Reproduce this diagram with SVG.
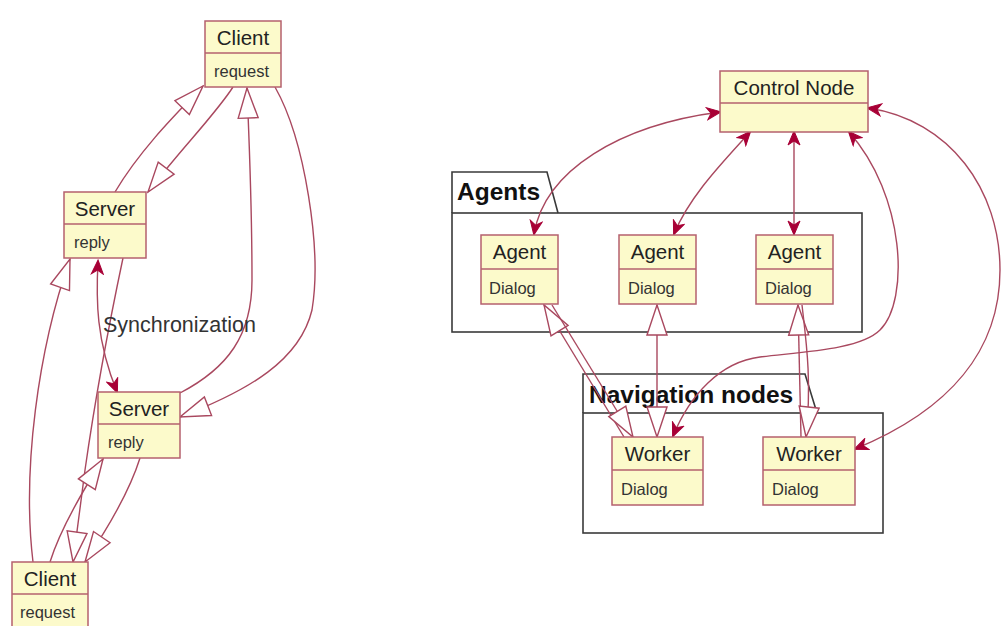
<svg xmlns="http://www.w3.org/2000/svg" width="1002" height="626" viewBox="0 0 1002 626">
<style>
  .node rect { fill: #FCFACB; stroke: #B5606E; stroke-width: 1.5; }
  .node line { stroke: #B5606E; stroke-width: 1.5; }
  .name { font-family: "Liberation Sans", Arial, sans-serif; font-size: 20.5px; fill: #222; text-anchor: middle; }
  .member { font-family: "Liberation Sans", Arial, sans-serif; font-size: 16.5px; fill: #333; }
  .pkg { fill: none; stroke: #3a3a3a; stroke-width: 1.6; }
  .pkgname { font-family: "Liberation Sans", Arial, sans-serif; font-size: 24.5px; font-weight: bold; fill: #111; }
  .label { font-family: "Liberation Sans", Arial, sans-serif; font-size: 21.5px; fill: #333; }
  .inh { fill: none; stroke: #A9485F; stroke-width: 1.4; marker-end: url(#tri); }
  .inh2 { fill: none; stroke: #A9485F; stroke-width: 1.4; marker-end: url(#tri); marker-start: url(#tri); }
  .dep { fill: none; stroke: #A9485F; stroke-width: 1.4; marker-end: url(#arr); marker-start: url(#arr); }
</style>
<defs>
  <marker id="tri" markerUnits="userSpaceOnUse" markerWidth="34" markerHeight="24" viewBox="0 0 34 24" refX="32" refY="12" orient="auto-start-reverse">
    <path d="M2,2 L32,12 L2,22 Z" fill="#ffffff" stroke="#A9485F" stroke-width="1.4"/>
  </marker>
  <marker id="arr" markerUnits="userSpaceOnUse" markerWidth="16" markerHeight="14" viewBox="0 0 16 14" refX="14" refY="7" orient="auto-start-reverse">
    <path d="M1,1 L15,7 L1,13 L5,7 Z" fill="#A80036" stroke="#A80036" stroke-width="1"/>
  </marker>
</defs>
<rect width="1002" height="626" fill="#ffffff"/>

<g id="pkg-agents">
  <path class="pkg" d="M452,213 L452,172 L547,172 L558,213"/>
  <rect class="pkg" x="452" y="213" width="410" height="119"/>
  <text class="pkgname" x="457" y="200">Agents</text>
</g>
<g id="pkg-navigation">
  <path class="pkg" d="M583,413 L583,374 L805,374 L817,413"/>
  <rect class="pkg" x="583" y="413" width="300" height="120"/>
  <text class="pkgname" x="589" y="403">Navigation nodes</text>
</g>

<g id="connectors">
  <!-- left diagram -->
  <path class="inh" d="M115,192 C 140,150 175,115 203,86"/>
  <path class="inh" d="M233,87 C 215,115 180,150 148,192"/>
  <path class="inh" d="M180,393 C 228,368 252,335 252,280 C 252,200 249,140 247,88"/>
  <path class="inh" d="M275,87 C 305,140 322,250 312,310 C 300,360 250,390 180,417"/>
  <path class="dep" d="M98,261 C 96,300 96,340 117,392"/>
  <path class="inh" d="M123,258 C 112,310 95,400 85,470 C 80,510 76,540 73,562"/>
  <path class="inh" d="M33,562 C 22,470 38,350 70,259"/>
  <path class="inh" d="M50,562 C 60,530 80,495 103,459"/>
  <path class="inh" d="M140,458 C 130,490 110,525 85,562"/>
  <!-- right diagram -->
  <path class="dep" d="M534,234 C 545,170 620,125 720,112"/>
  <path class="dep" d="M674,234 C 690,195 725,160 750,132"/>
  <path class="dep" d="M794,132 L794,234"/>
  <path class="dep" d="M849,132 C 905,195 910,300 880,330 C 860,350 800,352 760,357 C 720,362 690,395 673,436"/>
  <path class="dep" d="M868,108 C 950,120 1000,190 1000,270 C 1000,350 950,410 855,449"/>
  <path class="inh" d="M624,437 L544,305"/>
  <path class="inh" d="M552,305 L633,437"/>
  <path class="inh2" d="M657,437 L657,305"/>
  <path class="inh" d="M801,437 L798,305"/>
  <path class="inh" d="M802,305 C 806,340 812,380 806,437"/>
</g>

<g id="client-top" class="node">
  <rect x="205" y="21" width="76" height="66"/>
  <line x1="205" y1="53" x2="281" y2="53"/>
  <text class="name" x="243" y="45">Client</text>
  <text class="member" x="214" y="77">request</text>
</g>
<g id="server-top" class="node">
  <rect x="64" y="192" width="82" height="66"/>
  <line x1="64" y1="224" x2="146" y2="224"/>
  <text class="name" x="105" y="216">Server</text>
  <text class="member" x="74" y="248">reply</text>
</g>
<g id="sync-label">
  <text class="label" x="103" y="332">Synchronization</text>
</g>
<g id="server-bottom" class="node">
  <rect x="98" y="392" width="82" height="66"/>
  <line x1="98" y1="424" x2="180" y2="424"/>
  <text class="name" x="139" y="416">Server</text>
  <text class="member" x="108" y="448">reply</text>
</g>
<g id="client-bottom" class="node">
  <rect x="12" y="562" width="76" height="70"/>
  <line x1="12" y1="594" x2="88" y2="594"/>
  <text class="name" x="50" y="586">Client</text>
  <text class="member" x="20" y="618">request</text>
</g>

<g id="control-node" class="node">
  <rect x="720" y="71" width="148" height="61"/>
  <line x1="720" y1="103" x2="868" y2="103"/>
  <text class="name" x="794" y="95">Control Node</text>
</g>
<g id="agent-1" class="node">
  <rect x="481" y="235" width="77" height="69"/>
  <line x1="481" y1="269" x2="558" y2="269"/>
  <text class="name" x="519.5" y="259">Agent</text>
  <text class="member" x="489" y="294">Dialog</text>
</g>
<g id="agent-2" class="node">
  <rect x="619" y="235" width="77" height="69"/>
  <line x1="619" y1="269" x2="696" y2="269"/>
  <text class="name" x="657.5" y="259">Agent</text>
  <text class="member" x="628" y="294">Dialog</text>
</g>
<g id="agent-3" class="node">
  <rect x="756" y="235" width="77" height="69"/>
  <line x1="756" y1="269" x2="833" y2="269"/>
  <text class="name" x="794.5" y="259">Agent</text>
  <text class="member" x="765" y="294">Dialog</text>
</g>
<g id="worker-1" class="node">
  <rect x="612" y="437" width="91" height="68"/>
  <line x1="612" y1="470" x2="703" y2="470"/>
  <text class="name" x="657.5" y="461">Worker</text>
  <text class="member" x="621" y="495">Dialog</text>
</g>
<g id="worker-2" class="node">
  <rect x="763" y="437" width="92" height="68"/>
  <line x1="763" y1="470" x2="855" y2="470"/>
  <text class="name" x="809" y="461">Worker</text>
  <text class="member" x="772" y="495">Dialog</text>
</g>
</svg>
